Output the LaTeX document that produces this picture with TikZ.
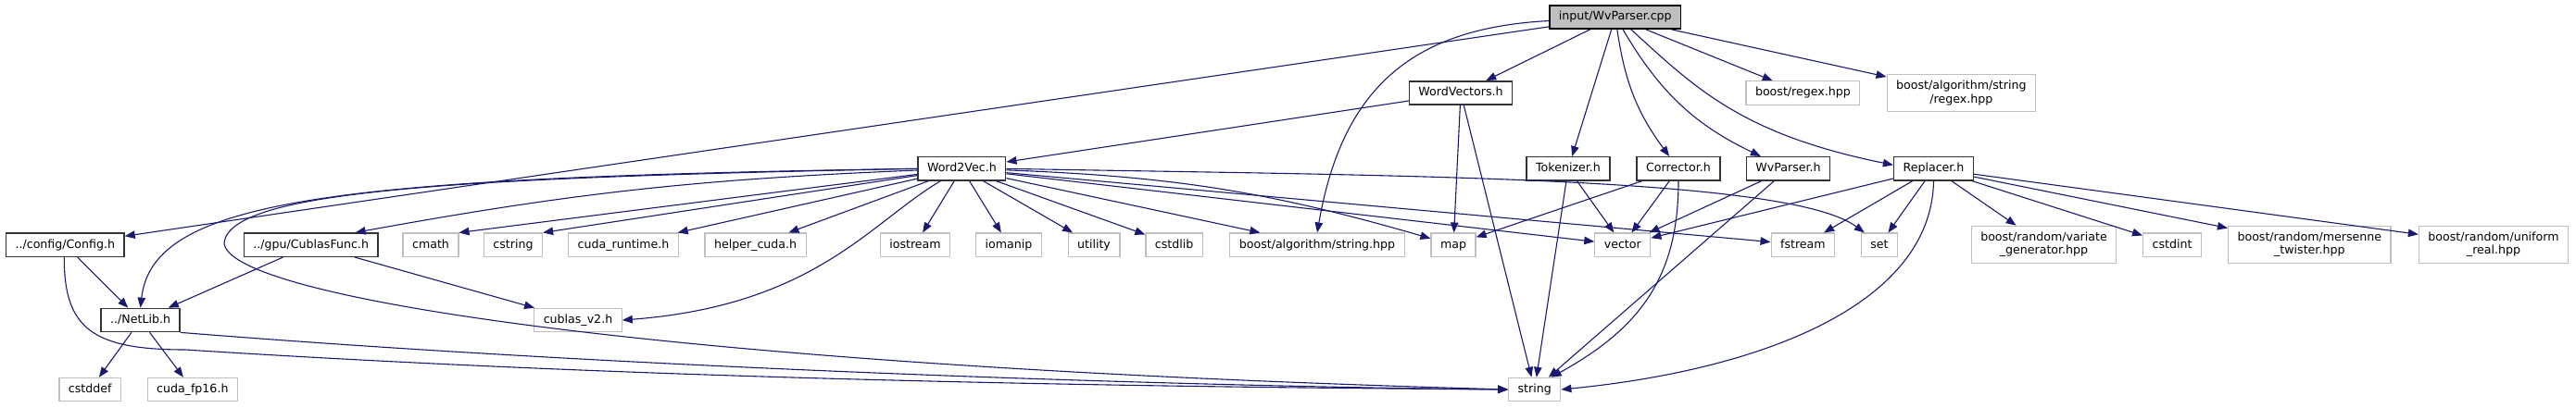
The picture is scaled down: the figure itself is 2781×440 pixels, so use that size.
\documentclass[tikz,border=0pt]{standalone}
\usepackage{fontspec}
\setmainfont{DejaVu Sans}
\usepackage{tikz}
\usetikzlibrary{arrows.meta}
\definecolor{edgeblue}{RGB}{25,25,112}
\definecolor{boxgray}{RGB}{191,191,191}

\begin{document}
\begin{tikzpicture}[x=1pt,y=-1pt,
    font=\fontsize{12.6}{14.5}\selectfont,
    filebox/.style={rectangle, inner xsep=10pt, inner ysep=0pt},
    oneline/.style={minimum height=25.3pt, text height=9.4pt, text depth=2.8pt},
    mainfile/.style={filebox, oneline, draw=black, fill=boxgray, line width=1.4pt},
    docfile/.style={filebox, oneline, draw=black!80, fill=white, line width=1.4pt},
    sysfile/.style={filebox, oneline, draw=boxgray, line width=1.2pt},
    syspair/.style={filebox, align=center, minimum height=40pt, draw=boxgray, line width=1.2pt},
    inc/.style={draw=edgeblue, line width=1.1pt, -{Triangle[length=11pt,width=8.5pt]}}]
      \useasboundingbox (0,0) rectangle (2781,440);

      \node[mainfile] (main) at (1743.8,18.5) {input/WvParser.cpp};

      \node[docfile] (wordvec) at (1577,100.5) {WordVectors.h};
      \node[sysfile] (regex) at (1946.4,100.5) {boost/regex.hpp};
      \node[syspair] (strregex) at (2117.3,100.7) {boost/algorithm/string\\/regex.hpp};

      \node[docfile] (w2v) at (1038.4,182.3) {Word2Vec.h};
      \node[docfile] (tokenizer) at (1693,182.3) {Tokenizer.h};
      \node[docfile] (corrector) at (1812,182.3) {Corrector.h};
      \node[docfile] (wvparser) at (1930.5,182.3) {WvParser.h};
      \node[docfile] (replacer) at (2087.5,182.3) {Replacer.h};

      \node[docfile] (config) at (70.3,264.7) {../config/Config.h};
      \node[docfile] (cublasfunc) at (335.7,264.7) {../gpu/CublasFunc.h};
      \node[sysfile] (cmath) at (465,264.7) {cmath};
      \node[sysfile] (cstring) at (554,264.7) {cstring};
      \node[sysfile] (cudart) at (673,264.7) {cuda\_runtime.h};
      \node[sysfile] (helper) at (815.6,264.7) {helper\_cuda.h};
      \node[sysfile] (iostream) at (988,264.7) {iostream};
      \node[sysfile] (iomanip) at (1089,264.7) {iomanip};
      \node[sysfile] (utility) at (1181,264.7) {utility};
      \node[sysfile] (cstdlib) at (1267.6,264.7) {cstdlib};
      \node[sysfile] (strhpp) at (1422,264.7) {boost/algorithm/string.hpp};
      \node[sysfile] (map) at (1569,264.7) {map};
      \node[sysfile] (vector) at (1751.8,264.7) {vector};
      \node[sysfile] (fstream) at (1946.4,264.7) {fstream};
      \node[sysfile] (set) at (2029,264.7) {set};
      \node[syspair] (vargen) at (2206.5,264.3) {boost/random/variate\\\_generator.hpp};
      \node[sysfile] (cstdint) at (2345,264.7) {cstdint};
      \node[syspair] (twister) at (2493.3,264.3) {boost/random/mersenne\\\_twister.hpp};
      \node[syspair] (ureal) at (2692,264.3) {boost/random/uniform\\\_real.hpp};

      \node[docfile] (netlib) at (151.6,346) {../NetLib.h};
      \node[sysfile] (cublasv2) at (624,346) {cublas\_v2.h};

      \node[sysfile] (cstddef) at (97.3,421) {cstddef};
      \node[sysfile] (fp16) at (207.8,421) {cuda\_fp16.h};
      \node[sysfile] (string) at (1656.7,421) {string};

      \draw[inc] (main) -- (wordvec);
      \draw[inc] (main) -- (tokenizer);
      \draw[inc] (main) to[bend right=14] (corrector);
      \draw[inc] (main) to[bend right=17] (wvparser);
      \draw[inc] ([xshift=17pt]main.south) .. controls (1830,95) and (1880,145) .. ([yshift=4pt]replacer.west);
      \draw[inc] (main) -- (regex);
      \draw[inc] (main) -- (strregex);
      \draw[inc] ([yshift=-4pt]main.west) .. controls (1530,30) and (1450,90) .. (strhpp.north);
      \draw[inc] (main) -- (config);

      \draw[inc] (w2v.west) .. controls (360,192) and (165,215) .. (netlib.north);
      \draw[inc] (w2v.west) .. controls (500,192) and (250,205) .. (242,262) .. controls (242,320) and (700,395) .. (string.west);
      \draw[inc] (w2v) to[bend right=4] ([xshift=-25pt]cublasfunc.north east);
      \draw[inc] (w2v) -- (cmath.north east);
      \draw[inc] (w2v) -- (cstring.north east);
      \draw[inc] (w2v) -- (cudart);
      \draw[inc] (w2v) -- (helper);
      \draw[inc] ([xshift=-23pt]w2v.south) .. controls (940,240) and (880,330) .. (cublasv2.east);
      \draw[inc] (w2v) -- (iostream);
      \draw[inc] (w2v) -- (iomanip);
      \draw[inc] (w2v) -- (utility);
      \draw[inc] (w2v) -- (cstdlib);
      \draw[inc] (w2v) -- (strhpp);
      \draw[inc] (w2v) to[bend left=7] (map);
      \draw[inc] (w2v) -- (vector);
      \draw[inc] (w2v) -- (fstream);
      \draw[inc] (w2v.east) .. controls (1500,190) and (1930,190) .. ([xshift=4pt]set.north west);

      \draw[inc] (wordvec) -- (w2v);
      \draw[inc] (wordvec) -- (map);
      \draw[inc] (wordvec) -- (string);

      \draw[inc] (tokenizer) -- (vector);
      \draw[inc] (tokenizer) -- (string);

      \draw[inc] (corrector) -- (map);
      \draw[inc] (corrector) -- (vector);
      \draw[inc] (corrector.south) .. controls (1812,300) and (1770,355) .. ([xshift=18pt]string.north);

      \draw[inc] (wvparser) -- (vector);
      \draw[inc] (wvparser) -- (string);

      \draw[inc] (replacer) -- (vector);
      \draw[inc] (replacer) -- (fstream);
      \draw[inc] (replacer) -- (set);
      \draw[inc] (replacer.south) .. controls (2085,330) and (1900,400) .. (string.east);
      \draw[inc] (replacer) -- (vargen);
      \draw[inc] (replacer) -- (cstdint);
      \draw[inc] (replacer) -- (twister);
      \draw[inc] (replacer) -- (ureal);

      \draw[inc] (config) -- (netlib);
      \draw[inc] ([xshift=-1pt]config.south) .. controls (69,355) and (100,378) .. (200,378) .. controls (700,410) and (1200,418) .. (string.west);

      \draw[inc] (cublasfunc) -- (netlib);
      \draw[inc] (cublasfunc) -- (cublasv2);

      \draw[inc] (netlib) -- (cstddef);
      \draw[inc] (netlib) -- (fp16);
      \draw[inc] (netlib.south east) .. controls (700,400) and (1300,418) .. (string.west);
    \end{tikzpicture}
\end{document}
